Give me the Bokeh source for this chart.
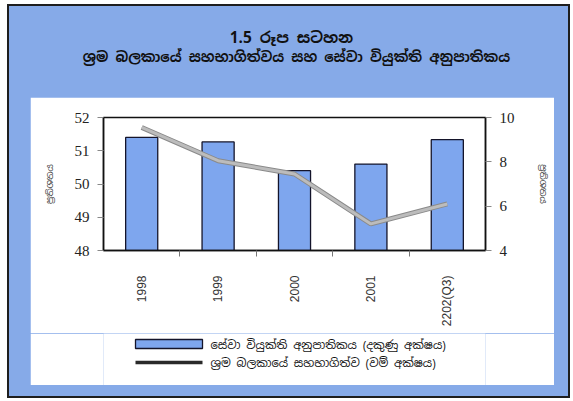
from bokeh.plotting import figure
from bokeh.models import Range1d, LinearAxis, FixedTicker, ColumnDataSource, Spacer
from bokeh.layouts import column, row
from bokeh.core.properties import value
from bokeh.embed import file_html
from bokeh.resources import INLINE

# ---- data ----
periods = ["1998", "1999", "2000", "2001", "2202(Q3)"]
unemployment = [9.1, 8.9, 7.6, 7.9, 9.0]          # right axis, %
participation = [51.7, 50.7, 50.3, 48.8, 49.4]    # left axis, %

title_1 = "1.5 රූප සටහන"
title_2 = "ශ්‍රම බලකායේ සහභාගිත්වය සහ සේවා වියුක්ති අනුපාතිකය"
axis_label = "ප්‍රතිශතය"
legend_labels = ["සේවා වියුක්ති අනුපාතිකය (දකුණු අක්ෂය)",
                 "ශ්‍රම බලකායේ සහභාගිත්ව (වම් අක්ෂය)"]
left_ticks = [48, 49, 50, 51, 52]
right_ticks = [4, 6, 8, 10]

BLUE = "#86aae8"
BAR = "#7ea6ee"
EDGE = "#14142a"
SIN = "Noto Sans Sinhala, Noto Serif Sinhala, sans-serif"
BORDERS = dict(min_border_left=73, min_border_right=69)


def blank(w, h, bg, xr, yr, **kw):
    f = figure(width=w, height=h, x_range=xr, y_range=yr, title=None,
               toolbar_location=None, output_backend="svg",
               x_axis_location=None, y_axis_location=None,
               min_border=0, outline_line_color=None,
               background_fill_color=bg, border_fill_color=bg, **kw)
    f.grid.visible = False
    return f


# ---- heading strip (page pixel coordinates, y down) ----
head = blank(559, 91, BLUE, Range1d(9, 568), Range1d(97, 6))
head.text(x=[291], y=[37], text=[title_1], text_align="center",
          text_baseline="middle", text_font=value(SIN), text_font_size="15.5px",
          text_font_style="bold", text_color="#111111")
head.text(x=[296], y=[56], text=[title_2], text_align="center",
          text_baseline="middle", text_font=value(SIN), text_font_size="14px",
          text_font_style="bold", text_color="#111111")

# ---- chart ----
x = list(range(len(periods)))
src = ColumnDataSource(dict(x=x, u=unemployment, p=participation))

p = figure(width=524, height=236, x_range=Range1d(-0.5, len(periods) - 0.5),
           y_range=Range1d(48, 52), title=None, toolbar_location=None,
           output_backend="svg", min_border_top=20, min_border_bottom=83,
           background_fill_color="white", border_fill_color="white",
           outline_line_color="#111111", outline_line_width=1.5, **BORDERS)
p.grid.visible = False
p.extra_y_ranges = {"right": Range1d(4, 10)}

p.vbar(x="x", top="u", bottom=4, width=0.42, source=src, y_range_name="right",
       fill_color=BAR, line_color=EDGE, line_width=1.3)
p.line(x="x", y="p", source=src, line_color="#8a8a8a", line_width=5)
p.line(x="x", y="p", source=src, line_color="#bcbcbc", line_width=3)

# bottom axis: labels at the bar centres, ticks between categories
xa = p.xaxis[0]
xa.ticker = FixedTicker(ticks=x, minor_ticks=[i + 0.5 for i in x[:-1]])
xa.major_label_overrides = {i: lab for i, lab in enumerate(periods)}
xa.major_label_orientation = 1.5708
xa.major_tick_line_color = None
xa.major_tick_out = 0
xa.major_tick_in = 0
xa.minor_tick_out = 6
xa.minor_tick_in = 0
xa.minor_tick_line_color = "#777777"
xa.major_label_standoff = 19
xa.major_label_text_font = "Liberation Sans"
xa.major_label_text_font_size = "12px"
xa.major_label_text_color = "#333333"
xa.axis_line_color = "#111111"
xa.axis_line_width = 1.5

ya = p.yaxis[0]
ya.ticker = FixedTicker(ticks=left_ticks)
ya.axis_label = axis_label
ya.axis_label_standoff = 16

ra = LinearAxis(y_range_name="right", ticker=FixedTicker(ticks=right_ticks),
                axis_label=axis_label)
ra.axis_label_standoff = 19
p.add_layout(ra, "right")

for ax in (ya, ra):
    ax.axis_label_text_font = SIN
    ax.axis_label_text_font_size = "9px"
    ax.axis_label_text_font_style = "normal"
    ax.minor_tick_line_color = None
    ax.major_tick_in = 0
    ax.major_tick_out = 6
    ax.major_tick_line_color = "#888888"
    ax.major_label_standoff = 8
    ax.major_label_text_font = "Liberation Serif"
    ax.major_label_text_font_size = "15px"
    ax.major_label_text_color = "#222222"
    ax.axis_line_color = "#111111"
    ax.axis_line_width = 1.5

# ---- key under the chart (page pixel coordinates, y down) ----
key = blank(524, 52, "white", Range1d(103, 485), Range1d(385, 333), **BORDERS)
key.quad(left=[135], right=[202], top=[339], bottom=[348],
         fill_color=BAR, line_color=EDGE, line_width=1.3)
key.line(x=[135, 202], y=[362, 362], line_color="#2a2a2a", line_width=3.5)
key.text(x=[210, 210], y=[344, 362], text=legend_labels, text_baseline="middle",
         text_font=value(SIN), text_font_size="11.5px", text_color="#111111")

panel = column(p, key)
body = row(Spacer(width=21, height=288), panel, Spacer(width=14, height=288))
root = column(head, body, Spacer(width=559, height=11),
              styles={"background-color": BLUE, "border": "2px solid #1e1e1e",
                      "margin-left": "7px", "margin-top": "4px"})

open("out.html", "w").write(file_html(root, INLINE))
